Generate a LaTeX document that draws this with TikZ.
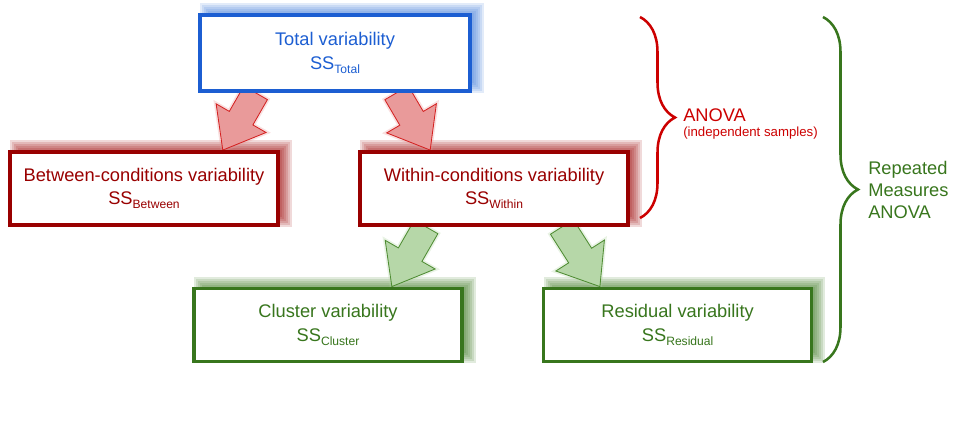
\documentclass[tikz,border=0pt]{standalone}
\usepackage{fontspec}
\setmainfont{Liberation Sans}
\usepackage{tikz}
\usetikzlibrary{calc, decorations.pathreplacing, backgrounds}

\definecolor{totalblue}{HTML}{1C5ED2}
\definecolor{glowblue}{HTML}{3C78D8}
\definecolor{boxred}{HTML}{990000}
\definecolor{arrowred}{HTML}{E99A9A}
\definecolor{arrowline}{HTML}{D42222}
\definecolor{anovared}{HTML}{CC0000}
\definecolor{boxgreen}{HTML}{38761D}
\definecolor{arrowgreen}{HTML}{B6D7A8}
\definecolor{arrowgline}{HTML}{4E8C32}

% SS with a lowered small index
\newcommand{\SSof}[1]{SS\raisebox{-3pt}{\fontsize{8.6}{9}\selectfont #1}}

% block arrow from tail #2 to tip #3
\newcommand{\fatarrow}[3]{%
  \coordinate (fa-b) at ($(#3)!0.92cm!(#2)$);
  \draw[#1] ($(#2)!0.34cm!90:(#3)$) -- ($(fa-b)!0.34cm!90:(#3)$) -- ($(fa-b)!0.72cm!90:(#3)$)
    -- (#3) -- ($(fa-b)!0.72cm!-90:(#3)$) -- ($(fa-b)!0.34cm!-90:(#3)$) -- ($(#2)!0.34cm!-90:(#3)$) -- cycle;}

% soft shadow up and right of a box
\newcommand{\boxglow}[2]{%
  \begin{scope}[on background layer]
    \foreach \r in {0,0.05,0.1,0.15,0.2,0.25}
      \fill[#2, opacity=0.15] ($(#1.south west)+(0.3-\r,0.25-\r)$) rectangle ($(#1.north east)+(0.05+\r,\r)$);
  \end{scope}}

\begin{document}
\begin{tikzpicture}[
  every node/.style={font=\fontsize{13}{16.5}\selectfont},
  varbox/.style={draw, fill=white, line width=2.6pt, minimum width=6.7cm, minimum height=1.83cm,
                 align=center},
  redarrow/.style={fill=arrowred, draw=arrowline, line width=0.6pt,
                   preaction={draw=arrowred, line width=3pt, opacity=0.3}},
  greenarrow/.style={fill=arrowgreen, draw=arrowgline, line width=0.6pt,
                     preaction={draw=arrowgreen, line width=3pt, opacity=0.3}},
  sidebrace/.style={decorate, decoration={brace, amplitude=0.875cm}, line width=1.8pt},
]
\useasboundingbox (0,0) rectangle (24.15,10.875);

% ---- boxes ----
\node[varbox, draw=totalblue, text=totalblue, minimum width=6.75cm, minimum height=1.9cm] (total) at (8.375, 9.55) {Total variability\\\SSof{Total}};

\node[varbox, draw=boxred, text=boxred] (between) at (3.6, 6.1625) {Between-conditions variability\\\SSof{Between}};
\node[varbox, draw=boxred, text=boxred] (within) at (12.35, 6.1625) {Within-conditions variability\\\SSof{Within}};

\node[varbox, draw=boxgreen, text=boxgreen] (cluster) at (8.2, 2.75) {Cluster variability\\\SSof{Cluster}};
\node[varbox, draw=boxgreen, text=boxgreen] (residual) at (16.94, 2.75) {Residual variability\\\SSof{Residual}};

\boxglow{total}{glowblue}
\boxglow{between}{boxred}
\boxglow{within}{boxred}
\boxglow{cluster}{boxgreen}
\boxglow{residual}{boxgreen}

% ---- arrows ----
\begin{scope}[on background layer]
\coordinate (tot-l) at ($(total.south west)!0.21!(total.south east)$);
\coordinate (tot-r) at ($(total.south west)!0.725!(total.south east)$);
\coordinate (btw-in) at ($(between.north west)!0.79!(between.north east)$);
\coordinate (win-in) at ($(within.north west)!0.265!(within.north east)$);
\coordinate (win-l) at ($(within.south west)!0.25!(within.south east)$);
\coordinate (win-r) at ($(within.south west)!0.75!(within.south east)$);
\coordinate (clu-in) at ($(cluster.north west)!0.735!(cluster.north east)$);
\coordinate (res-in) at ($(residual.north west)!0.214!(residual.north east)$);

\fatarrow{redarrow}{tot-l}{btw-in}
\fatarrow{redarrow}{tot-r}{win-in}
\fatarrow{greenarrow}{win-l}{clu-in}
\fatarrow{greenarrow}{win-r}{res-in}
\end{scope}

% ---- braces ----
\coordinate (rb-top) at (16.0, 10.45);
\coordinate (rb-bot) at (16.0, 5.425);
\draw[sidebrace, anovared] (rb-top) -- (rb-bot);
\node[anchor=west, inner sep=0pt, text=anovared] (anova) at (17.075, 8.0) {ANOVA};
\node[anchor=west, inner sep=0pt, text=anovared, font=\fontsize{9.4}{11}\selectfont] (indep) at (17.075, 7.55) {(independent samples)};

\coordinate (gb-top) at (20.575, 10.45);
\coordinate (gb-bot) at (20.575, 1.825);
\draw[sidebrace, boxgreen] (gb-top) -- (gb-bot);
\node[anchor=west, inner sep=0pt, text=boxgreen, align=left, font=\fontsize{13}{15.6}\selectfont] (rmanova) at (21.7, 6.125) {Repeated\\Measures\\ANOVA};

\end{tikzpicture}
\end{document}
